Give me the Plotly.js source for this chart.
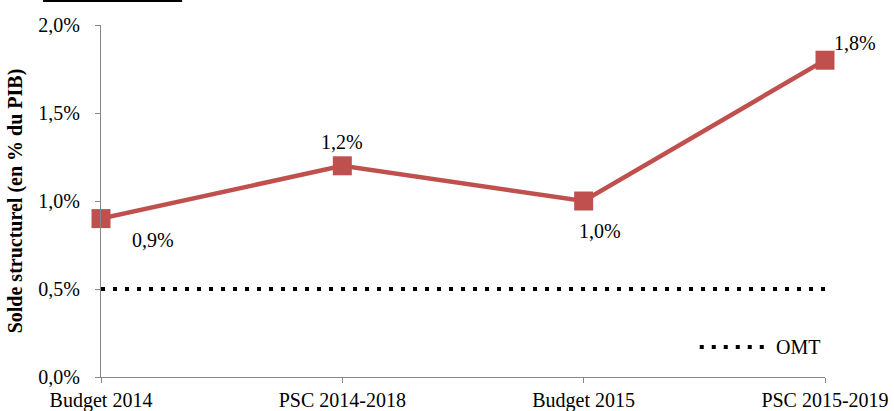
<!DOCTYPE html>
<html>
<head>
<meta charset="utf-8">
<script src="https://cdn.plot.ly/plotly-3.0.1.min.js"></script>
<style>html,body{margin:0;padding:0;background:#fff;}#chart{width:894px;height:411px;}</style>
</head>
<body>
<div id="chart"></div>
<script>
const categories = ["Budget 2014", "PSC 2014-2018", "Budget 2015", "PSC 2015-2019"];
const soldeStructurel = [0.9, 1.2, 1.0, 1.8];
const omt = [0.5, 0.5, 0.5, 0.5];
const yTicks = [0, 0.5, 1.0, 1.5, 2.0];
const labelShifts = [[52, -21], [0, 24], [16, -30], [30, 17]];

const fmt = v => v.toFixed(1).replace('.', ',') + '%';
const FONT = 'Liberation Serif';

const traces = [
  {
    x: categories, y: omt, mode: 'lines', name: 'OMT',
    line: {color: '#000', width: 4, dash: '4px,8px'},
    showlegend: false, hoverinfo: 'skip', cliponaxis: false
  },
  {
    x: categories, y: soldeStructurel, mode: 'lines+markers', name: 'Solde structurel',
    line: {color: '#C0504D', width: 4.5},
    marker: {symbol: 'square', size: 19, color: '#C0504D'},
    showlegend: false, cliponaxis: false
  }
];

const annotations = soldeStructurel.map((v, i) => ({
  x: categories[i], y: v, xref: 'x', yref: 'y',
  text: fmt(v), showarrow: false,
  xshift: labelShifts[i][0], yshift: labelShifts[i][1],
  font: {family: FONT, size: 20, color: '#000'}
}));
annotations.push({
  x: 0.930, y: 0.085, xref: 'paper', yref: 'paper', xanchor: 'left', yanchor: 'middle',
  text: 'OMT', showarrow: false, font: {family: FONT, size: 20, color: '#000'}
});

const layout = {
  width: 894, height: 411,
  margin: {l: 101, r: 69, t: 25, b: 34, pad: 0},
  paper_bgcolor: '#fff', plot_bgcolor: '#fff',
  separators: ', ',
  font: {family: FONT, size: 20, color: '#000'},
  xaxis: {
    type: 'category', range: [0, 3],
    showline: true, linecolor: '#868686', linewidth: 1,
    ticks: 'outside', ticklen: 5, tickcolor: '#868686', tickwidth: 1,
    showgrid: false, zeroline: false,
    tickfont: {family: FONT, size: 20, color: '#000'},
    ticklabelstandoff: 0
  },
  yaxis: {
    range: [0, 2.0], tickvals: yTicks, ticktext: yTicks.map(fmt),
    showline: true, linecolor: '#868686', linewidth: 1,
    ticks: 'outside', ticklen: 5, tickcolor: '#868686', tickwidth: 1,
    showgrid: false, zeroline: false,
    tickfont: {family: FONT, size: 20, color: '#000'},
    ticklabelstandoff: 11,
    title: {text: 'Solde structurel (en % du PIB)', standoff: 10,
            font: {family: FONT, size: 20, color: '#000', weight: 'bold'}}
  },
  shapes: [
    {type: 'line', xref: 'paper', yref: 'paper', x0: 0.827, x1: 0.917, y0: 0.085, y1: 0.085,
     line: {color: '#000', width: 4, dash: '4px,8px'}},
    {type: 'rect', xref: 'paper', yref: 'paper', x0: -0.080, x1: 0.112, y0: 1.065, y1: 1.075,
     fillcolor: '#000', line: {width: 0}}
  ],
  annotations: annotations
};

Plotly.newPlot('chart', traces, layout, {staticPlot: true, displayModeBar: false});
</script>
</body>
</html>
